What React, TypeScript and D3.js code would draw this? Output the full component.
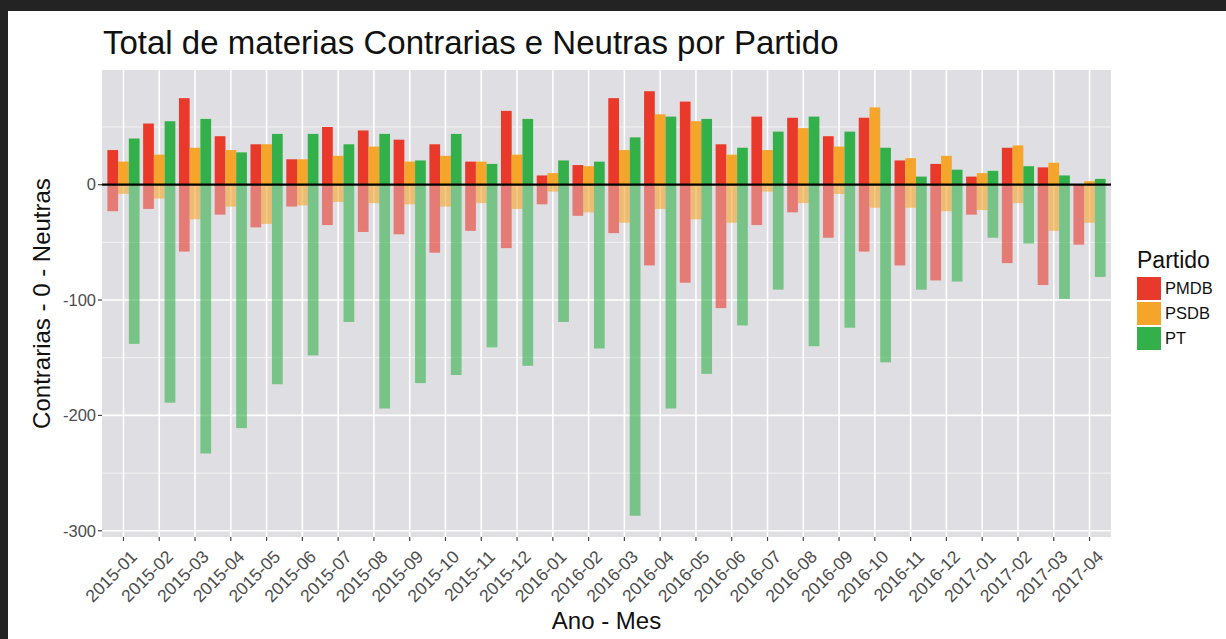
import * as d3 from 'd3'

const months = [
  '2015-01', '2015-02', '2015-03', '2015-04', '2015-05', '2015-06', '2015-07',
  '2015-08', '2015-09', '2015-10', '2015-11', '2015-12', '2016-01', '2016-02',
  '2016-03', '2016-04', '2016-05', '2016-06', '2016-07', '2016-08', '2016-09',
  '2016-10', '2016-11', '2016-12', '2017-01', '2017-02', '2017-03', '2017-04',
]
const parties = ['PMDB', 'PSDB', 'PT']

// Contrarias (positive side)
const contrariasPMDB = [30, 53, 75, 42, 35, 22, 50, 47, 39, 35, 20, 64, 8, 17, 75, 81, 72, 35, 59, 58, 42, 58, 21, 18, 7, 32, 15, 0]
const contrariasPSDB = [20, 26, 32, 30, 35, 22, 25, 33, 20, 25, 20, 26, 10, 16, 30, 61, 55, 26, 30, 49, 33, 67, 23, 25, 10, 34, 19, 3]
const contrariasPT = [40, 55, 57, 28, 44, 44, 35, 44, 21, 44, 18, 57, 21, 20, 41, 59, 57, 32, 46, 59, 46, 32, 7, 13, 12, 16, 8, 5]

// Neutras (negative side)
const neutrasPMDB = [-23, -21, -58, -26, -37, -19, -35, -41, -43, -59, -40, -55, -17, -27, -42, -70, -85, -107, -35, -24, -46, -58, -70, -83, -26, -68, -87, -52]
const neutrasPSDB = [-8, -12, -30, -19, -34, -18, -15, -16, -17, -19, -16, -21, -6, -24, -33, -21, -30, -33, -6, -16, -8, -20, -20, -23, -22, -16, -40, -33]
const neutrasPT = [-138, -189, -233, -211, -173, -148, -119, -194, -172, -165, -141, -157, -119, -142, -287, -194, -164, -122, -91, -140, -124, -154, -91, -84, -46, -51, -99, -80]

const yTicks = [0, -100, -200, -300]
const yMinorTicks = [50, -50, -150, -250]

const COLORS: Record<string, string> = { PMDB: '#E8392B', PSDB: '#F5A52A', PT: '#33B04A' }

const W = 1226
const H = 639
const panel = { left: 102, right: 1111, top: 70, bottom: 537 }
const FONT = '"Liberation Sans", Arial, Helvetica, sans-serif'

const contrarias: Record<string, number[]> = { PMDB: contrariasPMDB, PSDB: contrariasPSDB, PT: contrariasPT }
const neutras: Record<string, number[]> = { PMDB: neutrasPMDB, PSDB: neutrasPSDB, PT: neutrasPT }

const bars = parties.flatMap((p) =>
  months.flatMap((m, i) => [
    { month: m, party: p, value: contrarias[p][i], neg: false },
    { month: m, party: p, value: neutras[p][i], neg: true },
  ])
)

export default function App() {
  const x = d3.scaleBand().domain(months).range([panel.left, panel.right]).paddingInner(0).paddingOuter(0.1)
  const step = x.step()
  const xc = (m: string) => (x(m) as number) + step / 2
  const sub = d3.scaleBand().domain(parties).range([-0.45 * step, 0.45 * step]).padding(0)

  const allVals = bars.map((d) => d.value)
  const [lo, hi] = d3.extent(allVals) as [number, number]
  const pad = (hi - lo) * 0.05
  const y = d3.scaleLinear().domain([lo - pad, hi + pad]).range([panel.bottom, panel.top])

  return (
    <div style={{ position: 'absolute', left: 0, top: 0 }}>
      <svg width={W} height={H} style={{ display: 'block', fontFamily: FONT }}>
        <rect x={0} y={0} width={W} height={H} fill="#ffffff" />
        {/* dark frame of the screenshot */}
        <rect x={0} y={0} width={W} height={11} fill="#232323" />
        <rect x={0} y={0} width={8} height={H} fill="#232323" />

        <text x={103} y={54} fontSize={33} fill="#111">
          Total de materias Contrarias e Neutras por Partido
        </text>

        {/* panel */}
        <rect x={panel.left} y={panel.top} width={panel.right - panel.left} height={panel.bottom - panel.top} fill="#DFDFE3" />
        {yMinorTicks.map((t) => (
          <line key={'mn' + t} x1={panel.left} x2={panel.right} y1={y(t)} y2={y(t)} stroke="#fff" strokeWidth={0.8} opacity={0.8} />
        ))}
        {yTicks.map((t) => (
          <line key={'mj' + t} x1={panel.left} x2={panel.right} y1={y(t)} y2={y(t)} stroke="#fff" strokeWidth={1.6} />
        ))}
        {months.map((m) => (
          <line key={'vg' + m} x1={xc(m)} x2={xc(m)} y1={panel.top} y2={panel.bottom} stroke="#fff" strokeWidth={1.6} />
        ))}

        {bars.map((d) => {
          const bx = xc(d.month) + (sub(d.party) as number)
          const y0 = y(0)
          const y1 = y(d.value)
          return (
            <rect
              key={d.month + d.party + d.neg}
              x={bx}
              y={Math.min(y0, y1)}
              width={sub.bandwidth()}
              height={Math.abs(y1 - y0)}
              fill={COLORS[d.party]}
              fillOpacity={d.neg ? 0.6 : 1}
            />
          )
        })}

        <line x1={panel.left} x2={panel.right} y1={y(0)} y2={y(0)} stroke="#000" strokeWidth={2.2} />

        {/* y axis */}
        {yTicks.map((t) => (
          <g key={'yt' + t}>
            <line x1={panel.left - 4} x2={panel.left} y1={y(t)} y2={y(t)} stroke="#444" strokeWidth={1.2} />
            <text x={panel.left - 6} y={y(t)} dy="0.35em" textAnchor="end" fontSize={16.5} fill="#4d4d4d">
              {t}
            </text>
          </g>
        ))}
        <text
          transform={`translate(50,${(panel.top + panel.bottom) / 2}) rotate(-90)`}
          textAnchor="middle"
          fontSize={24}
          fill="#111"
        >
          Contrarias - 0 - Neutras
        </text>

        {/* x axis */}
        {months.map((m) => (
          <g key={'xt' + m}>
            <line x1={xc(m)} x2={xc(m)} y1={panel.bottom} y2={panel.bottom + 4} stroke="#444" strokeWidth={1.2} />
            <text
              transform={`translate(${xc(m) + 6},${panel.bottom + 12}) rotate(-45)`}
              textAnchor="end"
              dy="0.71em"
              fontSize={17.5}
              fill="#4d4d4d"
            >
              {m}
            </text>
          </g>
        ))}
        <text x={(panel.left + panel.right) / 2} y={629} textAnchor="middle" fontSize={24} fill="#111">
          Ano - Mes
        </text>

        {/* legend */}
        <text x={1137} y={268} fontSize={23} fill="#111">Partido</text>
        {parties.map((p, i) => (
          <g key={'lg' + p}>
            <rect x={1137} y={277 + i * 25} width={24} height={23} fill={COLORS[p]} />
            <text x={1165} y={277 + i * 25 + 11.5} dy="0.35em" fontSize={16.5} fill="#111">
              {p}
            </text>
          </g>
        ))}
      </svg>
    </div>
  )
}
